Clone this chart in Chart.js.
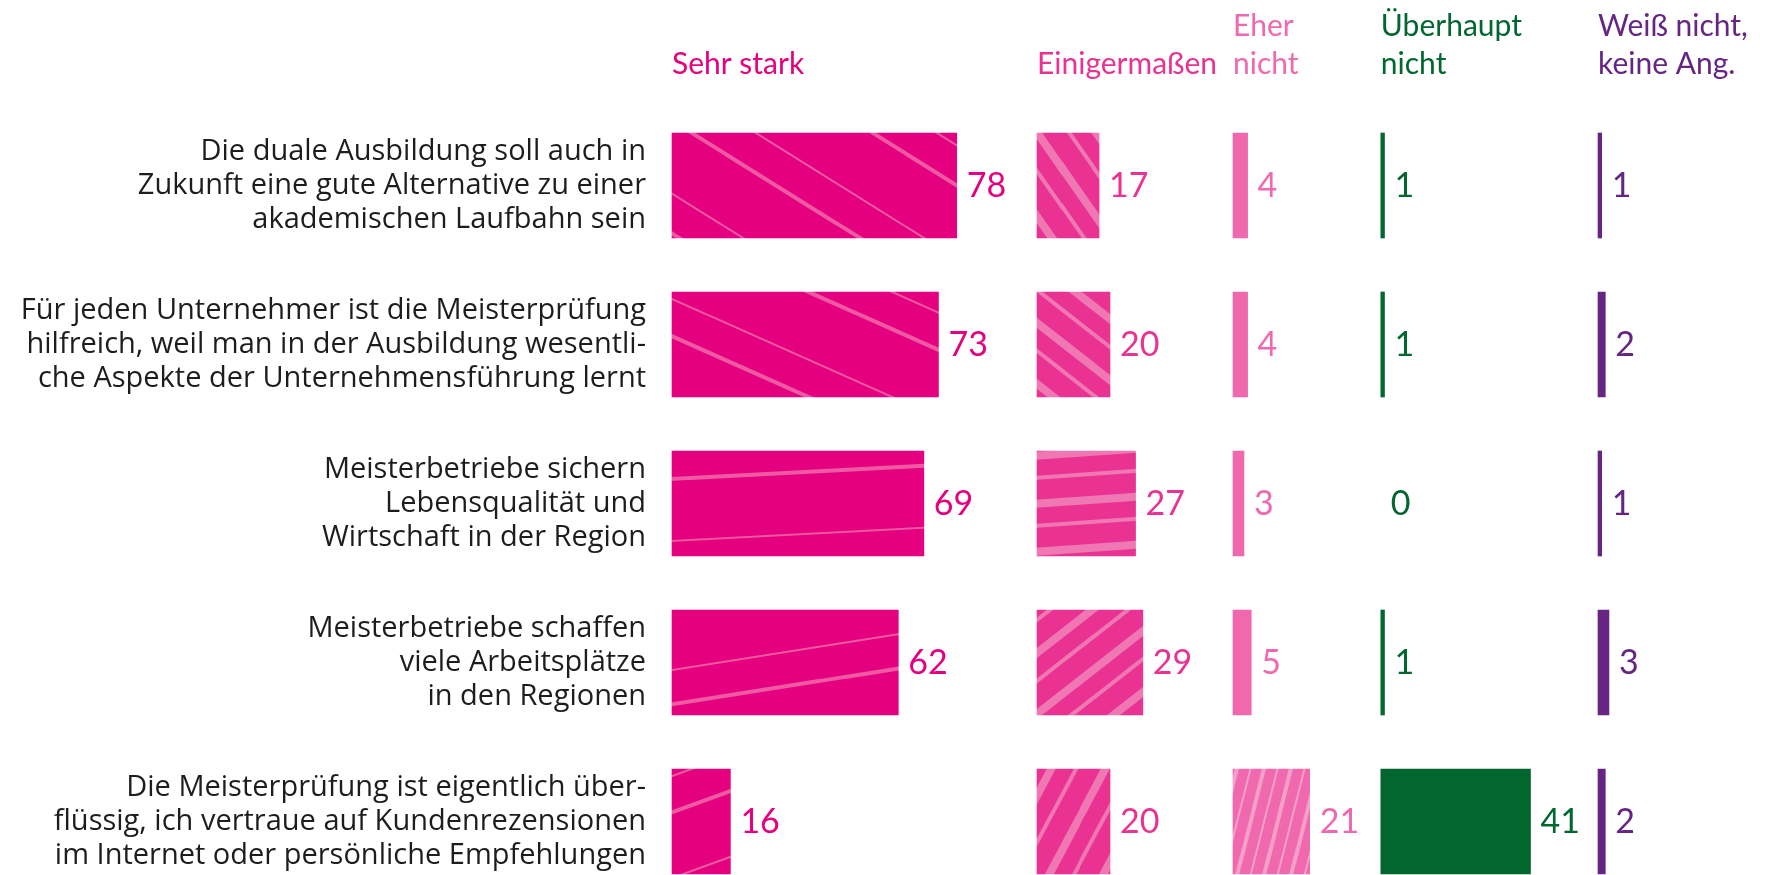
<!DOCTYPE html>
<html lang="de">
<head>
<meta charset="utf-8">
<title>Meisterprüfung – Zustimmung</title>
<script src="https://cdn.jsdelivr.net/npm/chart.js@4.4.1/dist/chart.umd.min.js"></script>
<style>
  html, body { margin: 0; padding: 0; background: #fff; overflow: hidden; }
</style>
</head>
<body>
<canvas id="chart" width="1771" height="875"></canvas>
<script>
// Statements (y categories), one array of lines per row
const rowLabels = [
    ['Die duale Ausbildung soll auch in', 'Zukunft eine gute Alternative zu einer', 'akademischen Laufbahn sein'],
    ['Für jeden Unternehmer ist die Meisterprüfung', 'hilfreich, weil man in der Ausbildung wesentli-', 'che Aspekte der Unternehmensführung lernt'],
    ['Meisterbetriebe sichern', 'Lebensqualität und', 'Wirtschaft in der Region'],
    ['Meisterbetriebe schaffen', 'viele Arbeitsplätze', 'in den Regionen'],
    ['Die Meisterprüfung ist eigentlich über-', 'flüssig, ich vertraue auf Kundenrezensionen', 'im Internet oder persönliche Empfehlungen']
];

// Answer columns
const answerLabels = [['Sehr stark'], ['Einigermaßen'], ['Eher', 'nicht'], ['Überhaupt', 'nicht'], ['Weiß nicht,', 'keine Ang.']];

// Values in percent, one array per answer
const sehrStark = [78, 73, 69, 62, 16];
const einigermassen = [17, 20, 27, 29, 20];
const eherNicht = [4, 4, 3, 5, 21];
const ueberhauptNicht = [1, 1, 0, 1, 41];
const weissNicht = [1, 2, 1, 3, 2];

const series = [sehrStark, einigermassen, eherNicht, ueberhauptNicht, weissNicht];

// Layout: where each answer column starts on the shared x scale
const columnStart = [0, 100, 153.7, 194.2, 253.7];
const colors = ['#e4007f', '#ea3293', '#f068ae', '#02662f', '#662483'];

const FONT = "Lato, 'Noto Sans', sans-serif";
const LABEL_FONT = "'Open Sans', Lato, sans-serif";

// Seamless stripe tile (decorative texture of the pink bars)
function stripes(base, light, angle, period, lines) {
    const t = angle * Math.PI / 180;
    const s = Math.abs(Math.sin(t)), c = Math.abs(Math.cos(t));
    const W = Math.max(8, Math.round(period / s));
    const H = Math.max(8, Math.round(period / c));
    const cv = document.createElement('canvas');
    cv.width = W; cv.height = H;
    const g = cv.getContext('2d');
    g.fillStyle = base;
    g.fillRect(0, 0, W, H);
    g.strokeStyle = light;
    const ux = Math.cos(t), uy = Math.sin(t);
    const nx = -uy, ny = ux;
    const proj = [[0, 0], [W, 0], [0, H], [W, H]].map(p => p[0] * nx + p[1] * ny);
    const dMin = Math.min(...proj) - period, dMax = Math.max(...proj) + period;
    const L = W + H + 50;
    for (let k = Math.floor(dMin / period) - 1; k * period < dMax + period; k++) {
        lines.forEach(l => {
            const d = k * period + l.o;
            const px = nx * d, py = ny * d;
            g.lineWidth = l.w;
            g.beginPath();
            g.moveTo(px - ux * L, py - uy * L);
            g.lineTo(px + ux * L, py + uy * L);
            g.stroke();
        });
    }
    return g.createPattern(cv, 'repeat');
}

const sehrAngles = [32, 24, -3, -9, -20];
const einigAngles = [55, 38, -4, -38, -62];

const sehrFill = sehrAngles.map(a => stripes('#e4007f', 'rgba(240,105,170,0.85)', a, 96,
    [{ o: 0, w: 2 }, { o: 34, w: 4 }]));
const einigFill = einigAngles.map(a => stripes('#ea3293', '#ef78b2', a, 48,
    [{ o: 0, w: 8 }, { o: 22, w: 4 }]));
const eherFill = eherNicht.map((v, i) => i === 4
    ? stripes('#f068ae', '#f4a0c9', -76, 26, [{ o: 0, w: 4 }, { o: 13, w: 2 }])
    : colors[2]);

const fills = [sehrFill, einigFill, eherFill, colors[3], colors[4]];

// Labels: column headers and value numbers
const annotate = {
    id: 'annotate',
    afterDatasetsDraw(chart) {
        const ctx = chart.ctx;
        const x = chart.scales.x;
        ctx.save();
        ctx.textAlign = 'left';
        ctx.textBaseline = 'alphabetic';
        ctx.font = '30px ' + FONT;
        answerLabels.forEach((lines, i) => {
            ctx.fillStyle = colors[i];
            const left = x.getPixelForValue(columnStart[i]);
            const baselines = lines.length === 2 ? [36, 74] : [74];
            lines.forEach((t, j) => ctx.fillText(t, left, baselines[j]));
        });
        ctx.font = '34px ' + FONT;
        ctx.textBaseline = 'middle';
        chart.data.datasets.forEach((ds, i) => {
            const meta = chart.getDatasetMeta(i);
            meta.data.forEach((bar, j) => {
                ctx.fillStyle = colors[i];
                ctx.fillText(String(series[i][j]), bar.x + 10, bar.y + 1);
            });
        });
        ctx.restore();
    }
};

new Chart(document.getElementById('chart'), {
    type: 'bar',
    data: {
        labels: rowLabels,
        datasets: series.map((vals, i) => ({
            label: answerLabels[i].join(' '),
            data: vals.map(v => [columnStart[i], columnStart[i] + v]),
            backgroundColor: vals.map((v, j) => v === 0 ? 'rgba(0,0,0,0)'
                : (Array.isArray(fills[i]) ? fills[i][j] : fills[i])),
            borderWidth: 0,
            borderSkipped: false,
            barThickness: 105,
            grouped: false,
            clip: false
        }))
    },
    options: {
        indexAxis: 'y',
        responsive: false,
        animation: false,
        layout: {
            padding: { top: 185.5, bottom: 53.5, left: 0, right: 4 }
        },
        plugins: {
            legend: { display: false },
            tooltip: { enabled: false }
        },
        scales: {
            x: {
                type: 'linear',
                display: false,
                min: 0,
                max: 300
            },
            y: {
                type: 'category',
                offset: false,
                border: { display: false },
                grid: { display: false, drawTicks: false },
                ticks: {
                    color: '#1d1d1b',
                    padding: 26,
                    font: { family: LABEL_FONT, size: 29, lineHeight: '34px' }
                },
                afterFit(scale) {
                    scale.width = 672;
                    scale.paddingTop = 0;
                    scale.paddingBottom = 0;
                }
            }
        }
    },
    plugins: [annotate]
});
</script>
</body>
</html>
